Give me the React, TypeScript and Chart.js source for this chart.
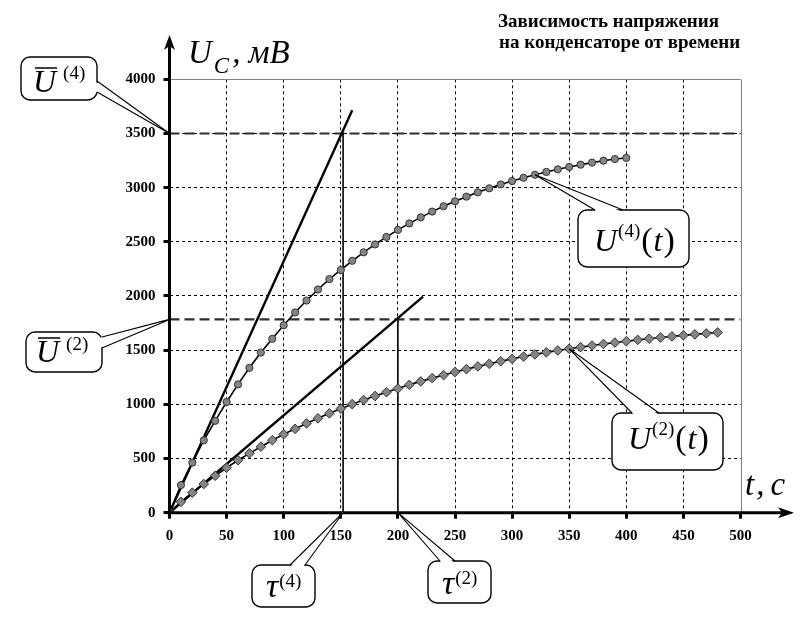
import { useEffect, useRef } from 'react';
import { Chart, registerables, type Plugin } from 'chart.js';

Chart.register(...registerables);

// values
const timeU4 = [
  0, 10, 20, 30, 40, 50, 60, 70, 80, 90, 100, 110, 120, 130, 140, 150, 160, 170, 180, 190, 200,
  210, 220, 230, 240, 250, 260, 270, 280, 290, 300, 310, 320, 330, 340, 350, 360, 370, 380, 390, 400,
];
const voltageU4 = [
  0, 255, 462, 668, 848, 1022, 1184, 1337, 1478, 1605, 1730, 1848, 1958, 2060, 2156, 2240, 2325,
  2403, 2476, 2545, 2610, 2670, 2726, 2779, 2828, 2874, 2917, 2957, 2994, 3029, 3061, 3091, 3119,
  3145, 3169, 3191, 3212, 3231, 3249, 3264, 3274,
];
const timeU2 = [
  0, 10, 20, 30, 40, 50, 60, 70, 80, 90, 100, 110, 120, 130, 140, 150, 160, 170, 180, 190, 200,
  210, 220, 230, 240, 250, 260, 270, 280, 290, 300, 310, 320, 330, 340, 350, 360, 370, 380, 390,
  400, 410, 420, 430, 440, 450, 460, 470, 480,
];
const voltageU2 = [
  0, 100, 185, 265, 341, 415, 484, 548, 609, 669, 724, 774, 824, 871, 917, 960, 1002, 1040, 1077,
  1112, 1146, 1180, 1212, 1242, 1270, 1298, 1325, 1350, 1374, 1398, 1420, 1441, 1461, 1480, 1497,
  1513, 1528, 1543, 1557, 1570, 1583, 1595, 1606, 1617, 1627, 1637, 1646, 1655, 1664,
];
const steadyU4 = 3500;
const steadyU2 = 1784;
const tau4 = 152;
const tau2 = 200;
const tangentU4End = { x: 160, y: 3715 };
const tangentU2End = { x: 222, y: 1995 };
const xMax = 500;
const yMax = 4000;

const SERIF = '"Liberation Serif", "Times New Roman", serif';

type Run = { text: string; font: string; dy?: number; dx?: number };

function drawRuns(ctx: CanvasRenderingContext2D, runs: Run[], x: number, y: number) {
  let cx = x;
  ctx.fillStyle = '#000';
  ctx.textBaseline = 'alphabetic';
  ctx.textAlign = 'left';
  for (const r of runs) {
    cx += r.dx ?? 0;
    ctx.font = r.font;
    ctx.fillText(r.text, cx, y + (r.dy ?? 0));
    cx += ctx.measureText(r.text).width;
  }
}

function drawBubble(
  ctx: CanvasRenderingContext2D,
  box: [number, number, number, number],
  base: [[number, number], [number, number]],
  tip: [number, number],
) {
  const [bx, by, bw, bh] = box;
  ctx.save();
  ctx.beginPath();
  ctx.roundRect(bx, by, bw, bh, 9);
  ctx.fillStyle = '#fff';
  ctx.fill();
  ctx.lineWidth = 1.4;
  ctx.strokeStyle = '#000';
  ctx.stroke();
  // push the base a little into the box so the border under the pointer is hidden
  const cx = bx + bw / 2;
  const cy = by + bh / 2;
  const inward = (p: [number, number]): [number, number] => {
    const dx = cx - p[0];
    const dy = cy - p[1];
    const d = Math.hypot(dx, dy) || 1;
    return [p[0] + (dx / d) * 3, p[1] + (dy / d) * 3];
  };
  const b1 = inward(base[0]);
  const b2 = inward(base[1]);
  ctx.beginPath();
  ctx.moveTo(tip[0], tip[1]);
  ctx.lineTo(b1[0], b1[1]);
  ctx.lineTo(b2[0], b2[1]);
  ctx.closePath();
  ctx.fill();
  ctx.lineWidth = 1.1;
  ctx.beginPath();
  ctx.moveTo(base[0][0], base[0][1]);
  ctx.lineTo(tip[0], tip[1]);
  ctx.lineTo(base[1][0], base[1][1]);
  ctx.stroke();
  ctx.restore();
}

const decorPlugin: Plugin<'scatter'> = {
  id: 'decor',
  afterDraw(chart) {
    const { ctx } = chart;
    const xs = chart.scales.x;
    const ys = chart.scales.y;
    const px = (v: number) => xs.getPixelForValue(v);
    const py = (v: number) => ys.getPixelForValue(v);
    const x0 = px(0);
    const y0 = py(0);

    ctx.save();
    // frame at top and right
    ctx.strokeStyle = '#808080';
    ctx.lineWidth = 1;
    ctx.beginPath();
    ctx.moveTo(x0, Math.round(py(yMax)) + 0.5);
    ctx.lineTo(px(xMax), Math.round(py(yMax)) + 0.5);
    ctx.moveTo(Math.round(px(xMax)) + 0.5, py(yMax));
    ctx.lineTo(Math.round(px(xMax)) + 0.5, y0);
    ctx.stroke();

    // thick axes with arrows
    ctx.strokeStyle = '#000';
    ctx.fillStyle = '#000';
    ctx.lineWidth = 3;
    ctx.beginPath();
    ctx.moveTo(x0, y0 + 4);
    ctx.lineTo(x0, 46);
    ctx.moveTo(x0 - 3, y0);
    ctx.lineTo(782, y0);
    ctx.stroke();
    ctx.beginPath();
    ctx.moveTo(x0, 35);
    ctx.lineTo(x0 - 5.5, 50);
    ctx.lineTo(x0, 46);
    ctx.lineTo(x0 + 5.5, 50);
    ctx.closePath();
    ctx.fill();
    ctx.beginPath();
    ctx.moveTo(794, y0);
    ctx.lineTo(778, y0 - 5.5);
    ctx.lineTo(782, y0);
    ctx.lineTo(778, y0 + 5.5);
    ctx.closePath();
    ctx.fill();

    // axis titles
    drawRuns(ctx, [
      { text: 'U', font: `italic 33px ${SERIF}` },
      { text: 'C', font: `italic 23px ${SERIF}`, dy: 10, dx: 2 },
      { text: ',', font: `italic 33px ${SERIF}`, dx: 3 },
      { text: 'мВ', font: `italic 33px ${SERIF}`, dx: 8 },
    ], 188, 63);
    drawRuns(ctx, [
      { text: 't', font: `italic 33px ${SERIF}` },
      { text: ',', font: `italic 33px ${SERIF}`, dx: 2 },
      { text: 'с', font: `italic 33px ${SERIF}`, dx: 6 },
    ], 745, 495);

    // title
    ctx.font = `bold 19px ${SERIF}`;
    ctx.textAlign = 'left';
    ctx.fillText('Зависимость напряжения', 498, 27);
    ctx.fillText('на конденсаторе от времени', 499, 48);

    // call-outs
    const bigI = `italic 32px ${SERIF}`;
    const sup = `19px ${SERIF}`;
    const paren = `34px ${SERIF}`;

    const tipU4: [number, number] = [px(timeU4[32]), py(voltageU4[32])];
    drawBubble(ctx, [578, 210, 111, 57], [[595, 210], [623, 210]], tipU4);
    drawRuns(ctx, [
      { text: 'U', font: bigI },
      { text: '(4)', font: sup, dy: -14, dx: 1 },
      { text: '(', font: paren, dx: 1 },
      { text: 't', font: bigI, dx: 1 },
      { text: ')', font: paren, dx: 1 },
    ], 594, 251);

    const tipU2: [number, number] = [px(timeU2[35]), py(voltageU2[35])];
    drawBubble(ctx, [612, 413, 111, 57], [[632, 413], [659, 413]], tipU2);
    drawRuns(ctx, [
      { text: 'U', font: bigI },
      { text: '(2)', font: sup, dy: -14, dx: 1 },
      { text: '(', font: paren, dx: 1 },
      { text: 't', font: bigI, dx: 1 },
      { text: ')', font: paren, dx: 1 },
    ], 628, 449);

    const overlineU = (x: number, y: number) => {
      ctx.save();
      ctx.font = bigI;
      const w = ctx.measureText('U').width;
      ctx.lineWidth = 1.5;
      ctx.strokeStyle = '#000';
      ctx.beginPath();
      ctx.moveTo(x + 2, y - 24);
      ctx.lineTo(x + w + 1, y - 24);
      ctx.stroke();
      ctx.restore();
    };

    drawBubble(ctx, [21, 57, 76, 43], [[97, 81], [97, 92]], [x0, py(steadyU4)]);
    drawRuns(ctx, [
      { text: 'U', font: bigI },
      { text: '(4)', font: sup, dy: -13, dx: 7 },
    ], 33, 92);
    overlineU(33, 92);

    drawBubble(ctx, [26, 332, 76, 40], [[102, 337], [102, 348]], [x0, py(steadyU2)]);
    drawRuns(ctx, [
      { text: 'U', font: bigI },
      { text: '(2)', font: sup, dy: -12, dx: 7 },
    ], 36, 362);
    overlineU(36, 362);

    const tauFont = `italic 34px ${SERIF}`;
    drawBubble(ctx, [252, 565, 63, 42], [[290, 565], [305, 565]], [px(tau4), y0]);
    drawRuns(ctx, [
      { text: 'τ', font: tauFont },
      { text: '(4)', font: sup, dy: -10, dx: 1 },
    ], 266, 597);

    drawBubble(ctx, [428, 561, 63, 42], [[440, 561], [455, 561]], [px(tau2), y0]);
    drawRuns(ctx, [
      { text: 'τ', font: tauFont },
      { text: '(2)', font: sup, dy: -10, dx: 1 },
    ], 442, 594);

    ctx.restore();
  },
};

function toPoints(xs: number[], ys: number[]) {
  return xs.map((x, i) => ({ x, y: ys[i] }));
}

export default function App() {
  const canvasRef = useRef<HTMLCanvasElement | null>(null);

  useEffect(() => {
    document.body.style.margin = '0';
    const canvas = canvasRef.current;
    if (!canvas) return;

    const gridColor = (v: number, edge: number) => (v === edge ? 'rgba(0,0,0,0)' : '#000');
    const tickFont = { family: SERIF, size: 15, weight: 'bold' as const };

    const chart = new Chart(canvas, {
      type: 'scatter',
      data: {
        datasets: [
          {
            data: toPoints(timeU4, voltageU4),
            showLine: true,
            borderColor: '#000',
            borderWidth: 1.6,
            pointStyle: 'circle',
            pointRadius: 3.6,
            pointBackgroundColor: '#858585',
            pointBorderColor: '#333',
            pointBorderWidth: 1,
          },
          {
            data: toPoints(timeU2, voltageU2),
            showLine: true,
            borderColor: '#000',
            borderWidth: 1.6,
            pointStyle: 'rectRot',
            pointRadius: 4.8,
            pointBackgroundColor: '#858585',
            pointBorderColor: '#333',
            pointBorderWidth: 1,
          },
          {
            data: [{ x: 0, y: 0 }, tangentU4End],
            showLine: true,
            borderColor: '#000',
            borderWidth: 2.4,
            pointRadius: 0,
          },
          {
            data: [{ x: 0, y: 0 }, tangentU2End],
            showLine: true,
            borderColor: '#000',
            borderWidth: 2.4,
            pointRadius: 0,
          },
          {
            data: [{ x: tau4, y: 0 }, { x: tau4, y: steadyU4 }],
            showLine: true,
            borderColor: '#000',
            borderWidth: 1.6,
            pointRadius: 0,
          },
          {
            data: [{ x: tau2, y: 0 }, { x: tau2, y: steadyU2 }],
            showLine: true,
            borderColor: '#000',
            borderWidth: 1.6,
            pointRadius: 0,
          },
          {
            data: [{ x: 0, y: steadyU4 }, { x: xMax, y: steadyU4 }],
            showLine: true,
            borderColor: '#2e2e2e',
            borderWidth: 2.2,
            borderDash: [10, 5],
            pointRadius: 0,
          },
          {
            data: [{ x: 0, y: steadyU2 }, { x: xMax, y: steadyU2 }],
            showLine: true,
            borderColor: '#2e2e2e',
            borderWidth: 2.2,
            borderDash: [10, 5],
            pointRadius: 0,
          },
        ],
      },
      options: {
        responsive: false,
        animation: false,
        layout: { padding: { left: 0, top: 79.3, right: 64.5, bottom: 0 } },
        plugins: {
          legend: { display: false },
          tooltip: { enabled: false },
        },
        scales: {
          x: {
            type: 'linear',
            min: 0,
            max: xMax,
            afterFit: (scale) => {
              scale.height = 106.3;
            },
            ticks: {
              stepSize: 50,
              color: '#000',
              font: tickFont,
              padding: 8,
              maxRotation: 0,
              callback: (v) => String(v),
            },
            grid: {
              color: (c) => gridColor(c.tick?.value, xMax),
              lineWidth: 1,
              tickLength: 6,
              tickColor: '#000',
              tickWidth: 3,
            },
            border: { display: false, dash: [3, 3] },
          },
          y: {
            type: 'linear',
            min: 0,
            max: yMax,
            afterFit: (scale) => {
              scale.width = 169.5;
            },
            ticks: {
              stepSize: 500,
              color: '#000',
              font: tickFont,
              padding: 8,
              callback: (v) => String(v),
            },
            grid: {
              color: (c) => gridColor(c.tick?.value, yMax),
              lineWidth: 1,
              tickLength: 6,
              tickColor: '#000',
              tickWidth: 3,
            },
            border: { display: false, dash: [3, 3] },
          },
        },
      },
      plugins: [decorPlugin],
    });

    return () => {
      chart.destroy();
    };
  }, []);

  return (
    <div style={{ position: 'absolute', left: 0, top: 0, width: 805, height: 619, background: '#fff' }}>
      <canvas ref={canvasRef} width={805} height={619} />
    </div>
  );
}
